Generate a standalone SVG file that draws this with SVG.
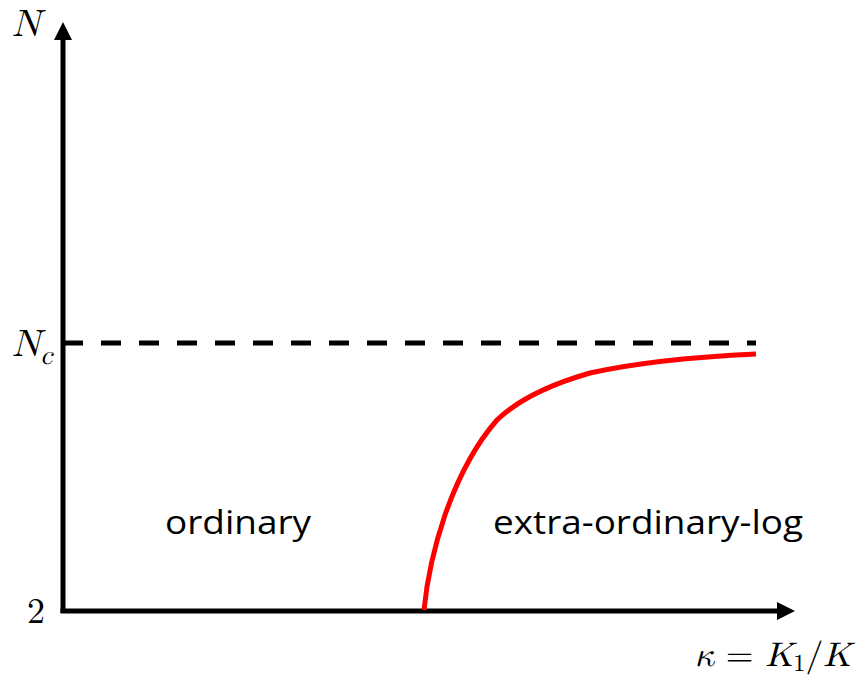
<svg xmlns="http://www.w3.org/2000/svg" width="868" height="680" viewBox="0 0 868 680">
<style>
.math{font-family:"Latin Modern Math","DejaVu Serif","Liberation Serif",serif;fill:#000}
.it{font-style:italic}
.lbl{font-family:"Open Sans","Noto Sans","Liberation Sans",sans-serif;font-size:33px;fill:#000}
.axis{stroke:#000;stroke-width:5;fill:none}
</style>
<defs>
<marker id="arr" markerUnits="userSpaceOnUse" markerWidth="18" markerHeight="18" refX="0" refY="8" orient="auto" viewBox="0 0 16 16">
<path d="M0,0 L16,8 L0,16 Z" fill="#000"/>
</marker>
</defs>
<rect width="868" height="680" fill="#fff"/>
<g id="connectors">
<line class="axis" x1="63" y1="613" x2="63" y2="40" marker-end="url(#arr)"/>
<line class="axis" x1="60.5" y1="611" x2="777" y2="611" marker-end="url(#arr)"/>
<line x1="63" y1="343" x2="756" y2="343" stroke="#000" stroke-width="5" stroke-dasharray="20 18"/>
<path d="M424,610 C427,580 433,550 445,515 C458,478 475,445 497,420 C520,398 555,383 590,373 C640,362 690,357 756,354" fill="none" stroke="#ff0000" stroke-width="5"/>
</g>
<g id="label-N"><text class="math it" x="12" y="36" font-size="38">N</text></g>
<g id="label-Nc"><text class="math it" x="12" y="356" font-size="38">N<tspan font-size="27" dy="8">c</tspan></text></g>
<g id="label-2"><text class="math" x="27" y="623" font-size="36">2</text></g>
<g id="label-kappa"><text class="math" x="695" y="666" font-size="34" textLength="156" lengthAdjust="spacingAndGlyphs"><tspan class="it">κ</tspan> = <tspan class="it">K</tspan><tspan font-size="24" dy="5">1</tspan><tspan dy="-5">/</tspan><tspan class="it">K</tspan></text></g>
<g id="region-ordinary"><text class="lbl" x="165" y="534" textLength="146" lengthAdjust="spacingAndGlyphs">ordinary</text></g>
<g id="region-extra"><text class="lbl" x="493" y="534" textLength="310" lengthAdjust="spacingAndGlyphs">extra-ordinary-log</text></g>
</svg>
